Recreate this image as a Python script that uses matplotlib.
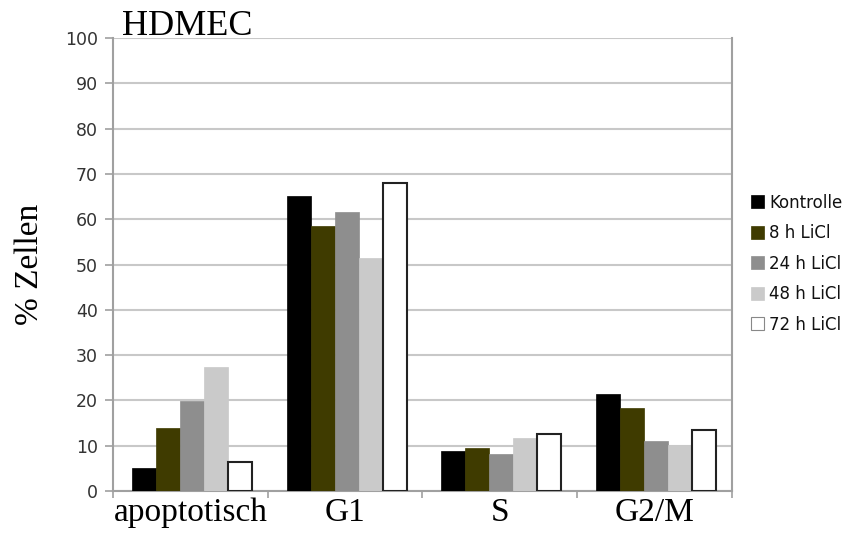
import matplotlib.pyplot as plt
import numpy as np

# data
categories = ['apoptotisch', 'G1', 'S', 'G2/M']
series_names = ['Kontrolle', '8 h LiCl', '24 h LiCl', '48 h LiCl', '72 h LiCl']
kontrolle = [5.1, 65.2, 8.9, 21.4]
h8 = [13.9, 58.5, 9.6, 18.4]
h24 = [19.9, 61.7, 8.1, 11.0]
h48 = [27.4, 51.4, 11.6, 10.2]
h72 = [6.4, 68.1, 12.6, 13.4]
yticks = list(range(0, 101, 10))

values = [kontrolle, h8, h24, h48, h72]
colors = ['#000000', '#3f3b00', '#8e8e8e', '#cacaca', '#ffffff']
edges = ['#000000', '#3f3b00', '#8e8e8e', '#cacaca', '#222222']

fig = plt.figure(figsize=(8.54, 5.38), dpi=100)
ax = fig.add_axes([0.1323, 0.0874, 0.7247, 0.8416])

x = np.arange(len(categories))
w = 0.155
for i, vals in enumerate(values):
    ax.bar(x + (i - 2) * w + 0.01, vals, width=w, color=colors[i],
           edgecolor=edges[i], linewidth=1.5 if i == 4 else 0.5,
           label=series_names[i], zorder=3)

ax.set_xlim(-0.5, 3.5)
ax.set_ylim(0, 100)
ax.set_yticks(yticks)
ax.yaxis.grid(True, color='#c8c8c8', linewidth=1.5, zorder=0)
ax.set_axisbelow(True)

for s in ['left', 'right', 'bottom']:
    ax.spines[s].set_color('#a0a0a0')
    ax.spines[s].set_linewidth(1.5)
ax.spines['top'].set_visible(False)

ax.set_xticks(x)
ax.set_xticklabels(categories, family='Liberation Serif', fontsize=24)
ax.tick_params(axis='x', length=0, pad=5)
ax.set_xticks(np.arange(-0.5, 3.6, 1), minor=True)
ax.tick_params(axis='x', which='minor', length=5, color='#a0a0a0', width=1.2)
ax.tick_params(axis='y', length=6, color='#a0a0a0', width=1.2,
               labelsize=12.5, labelcolor='#333333', pad=5)

ax.set_ylabel('% Zellen', family='Liberation Serif', fontsize=24, labelpad=14)
fig.text(0.143, 0.935, 'HDMEC', family='Liberation Serif', fontsize=26)

leg = ax.legend(loc='center left', bbox_to_anchor=(0.862, 0.51),
                bbox_transform=fig.transFigure, frameon=False,
                handlelength=0.8, handleheight=0.8, handletextpad=0.3,
                labelspacing=0.75, fontsize=12)
for t in leg.get_texts():
    t.set_color('#111111')
leg.legend_handles[4].set_edgecolor('#888888')
leg.legend_handles[4].set_linewidth(0.8)

fig.savefig('out.png', dpi=100)
